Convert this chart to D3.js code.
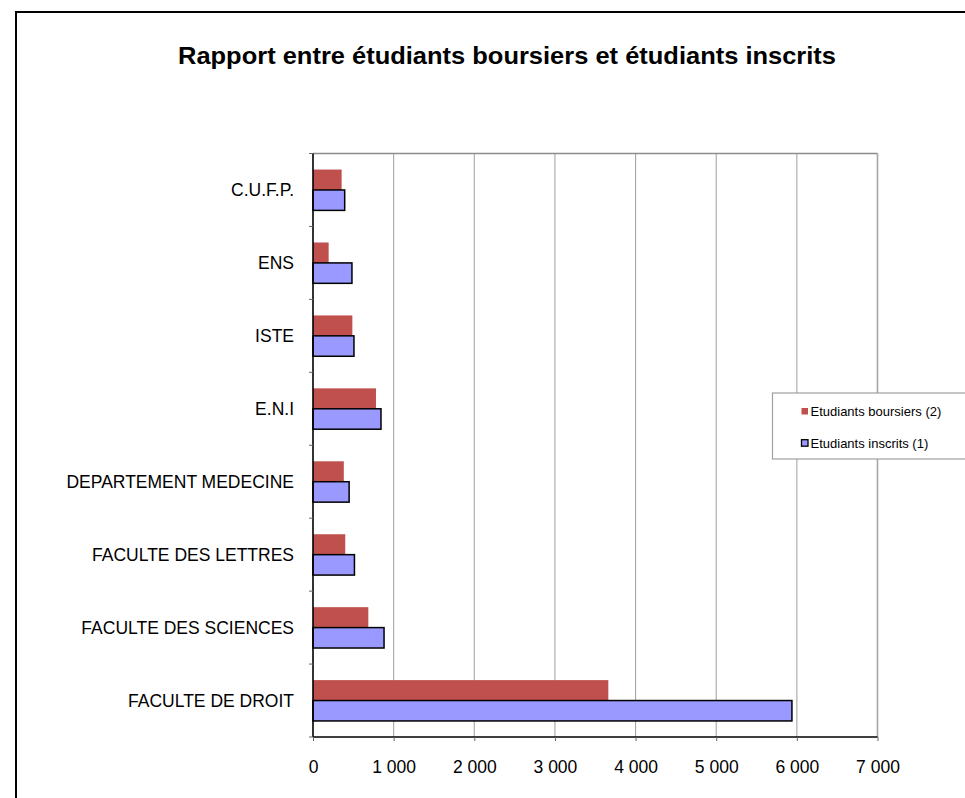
<!DOCTYPE html>
<html><head><meta charset="utf-8">
<script src="https://cdn.jsdelivr.net/npm/d3@7"></script>
<style>body{margin:0;background:#fff;font-family:"Liberation Sans",Arial,sans-serif;}</style>
</head><body>
<svg id="c" width="965" height="798"></svg>
<script>
const categories = ["C.U.F.P.","ENS","ISTE","E.N.I","DEPARTEMENT MEDECINE","FACULTE DES LETTRES","FACULTE DES SCIENCES","FACULTE DE DROIT"];
const boursiers = [355, 194, 488, 781, 382, 400, 686, 3662];
const inscrits = [393, 483, 508, 843, 448, 514, 881, 5939];
const seriesNames = ["Etudiants boursiers (2)", "Etudiants inscrits (1)"];
const xTicks = [0,1000,2000,3000,4000,5000,6000,7000];
const title = "Rapport entre étudiants boursiers et étudiants inscrits";

const svg = d3.select("#c");
const font = "'Liberation Sans', Arial, sans-serif";
// outer border
svg.append("rect").attr("x",16).attr("y",12).attr("width",970).attr("height",800)
  .attr("fill","#fff").attr("stroke","#000").attr("stroke-width",2);

svg.append("text").attr("x",507).attr("y",64).attr("text-anchor","middle")
  .attr("font-family",font).attr("font-weight","bold").attr("font-size",24.5)
  .attr("textLength",658).attr("lengthAdjust","spacingAndGlyphs").text(title);

const L=313, R=877.5, T=153.5, B=737;
const x = d3.scaleLinear().domain([0,7000]).range([L,R]);
const y = d3.scaleBand().domain(categories).range([T,B]);

// gridlines
svg.append("g").selectAll("line").data(xTicks.slice(1)).join("line")
  .attr("x1",d=>x(d)).attr("x2",d=>x(d)).attr("y1",T).attr("y2",B)
  .attr("stroke","#a6a6a6").attr("stroke-width",d=>d===7000?1.6:1.1);
svg.append("line").attr("x1",L).attr("x2",R).attr("y1",T).attr("y2",T).attr("stroke","#8c8c8c").attr("stroke-width",1.6);

const bw = y.bandwidth();
const bh = bw*0.28;
const off = bw*0.5 - bh;

svg.append("g").selectAll("rect").data(categories).join("rect")
  .attr("x",L).attr("y",d=>y(d)+off).attr("width",(d,i)=>x(boursiers[i])-L).attr("height",bh)
  .attr("fill","#C0504D");
svg.append("g").selectAll("rect").data(categories).join("rect")
  .attr("x",L).attr("y",d=>y(d)+off+bh).attr("width",(d,i)=>x(inscrits[i])-L).attr("height",bh)
  .attr("fill","#9999FF").attr("stroke","#000").attr("stroke-width",1.5);

// x axis
const xAxis = d3.axisBottom(x).tickValues(xTicks).tickSize(4).tickPadding(2)
  .tickFormat(d=>d3.format(",")(d).replace(/,/g," "));
const gx = svg.append("g").attr("transform",`translate(0,${B})`).call(xAxis);
gx.select(".domain").attr("stroke","#000").attr("stroke-width",1.6).attr("d",`M${L},0H${R}`);
gx.selectAll(".tick line").attr("stroke","#666");
gx.selectAll("text").attr("font-family",font).attr("font-size",17.5).attr("fill","#000")
  .attr("dy",null).attr("y",36);

// y axis
svg.append("line").attr("x1",L).attr("x2",L).attr("y1",T).attr("y2",B).attr("stroke","#000").attr("stroke-width",1.6);
const bounds = categories.map(c=>y(c)).concat([B]);
svg.append("g").selectAll("line").data(bounds).join("line")
  .attr("x1",L-4).attr("x2",L).attr("y1",d=>d).attr("y2",d=>d).attr("stroke","#666");
svg.append("g").selectAll("text").data(categories).join("text")
  .attr("x",294).attr("y",d=>y(d)+bw/2+6.3).attr("text-anchor","end")
  .attr("font-family",font).attr("font-size",17.5).text(d=>d);

// legend
const lg = svg.append("g");
lg.append("rect").attr("x",772.5).attr("y",393).attr("width",200).attr("height",66)
  .attr("fill","#fff").attr("stroke","#a0a0a0").attr("stroke-width",1.2);
const colors=["#C0504D","#9999FF"];
seriesNames.forEach((s,i)=>{
  const base = 416 + i*31.7;
  lg.append("rect").attr("x",801.5).attr("y",base-8).attr("width",6.5).attr("height",6.5)
    .attr("fill",colors[i]).attr("stroke",i===1?"#000":"none").attr("stroke-width",1.3);
  lg.append("text").attr("x",810.5).attr("y",base).attr("font-family",font).attr("font-size",13).text(s);
});
</script>
</body></html>
